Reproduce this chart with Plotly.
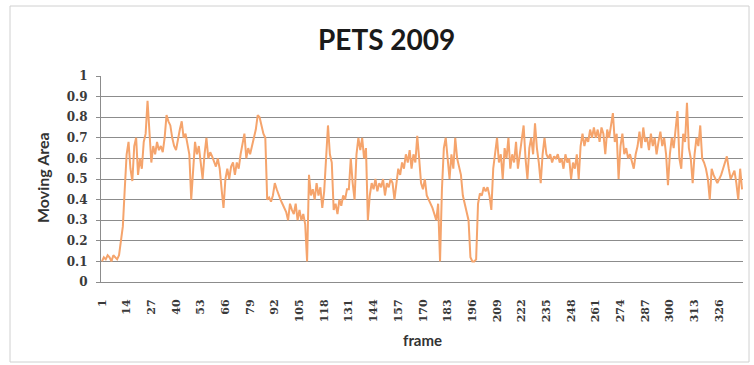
import plotly.graph_objects as go

# Moving-area ratio per frame, PETS 2009 sequence (frames 1..338)
moving_area = [
    # 1-10
    0.10, 0.12, 0.11, 0.13, 0.12, 0.10, 0.13, 0.12, 0.11, 0.13,
    # 11-20
    0.20, 0.27, 0.45, 0.62, 0.68, 0.55, 0.49, 0.66, 0.70, 0.52,
    # 21-30
    0.60, 0.55, 0.68, 0.72, 0.88, 0.70, 0.58, 0.66, 0.62, 0.68,
    # 31-40
    0.64, 0.66, 0.63, 0.70, 0.81, 0.78, 0.76, 0.70, 0.66, 0.64,
    # 41-50
    0.70, 0.74, 0.78, 0.70, 0.72, 0.66, 0.62, 0.40, 0.55, 0.68,
    # 51-60
    0.62, 0.66, 0.58, 0.50, 0.62, 0.70, 0.60, 0.63, 0.61, 0.58,
    # 61-70
    0.56, 0.60, 0.55, 0.45, 0.36, 0.50, 0.55, 0.50, 0.56, 0.58,
    # 71-80
    0.52, 0.58, 0.55, 0.62, 0.68, 0.72, 0.60, 0.65, 0.62, 0.66,
    # 81-90
    0.70, 0.74, 0.81, 0.80, 0.76, 0.72, 0.70, 0.40, 0.41, 0.39,
    # 91-100
    0.42, 0.48, 0.45, 0.42, 0.40, 0.38, 0.36, 0.34, 0.30, 0.38,
    # 101-110
    0.35, 0.33, 0.38, 0.30, 0.35, 0.30, 0.33, 0.28, 0.10, 0.52,
    # 111-120
    0.42, 0.45, 0.40, 0.48, 0.42, 0.46, 0.36, 0.44, 0.60, 0.76,
    # 121-130
    0.62, 0.58, 0.35, 0.38, 0.33, 0.40, 0.37, 0.42, 0.40, 0.45,
    # 131-140
    0.45, 0.60, 0.48, 0.40, 0.62, 0.70, 0.64, 0.70, 0.60, 0.65,
    # 141-150
    0.30, 0.42, 0.48, 0.45, 0.50, 0.44, 0.48, 0.46, 0.50, 0.42,
    # 151-160
    0.48, 0.46, 0.50, 0.48, 0.40, 0.48, 0.55, 0.52, 0.58, 0.55,
    # 161-170
    0.62, 0.58, 0.64, 0.55, 0.62, 0.58, 0.71, 0.60, 0.48, 0.45,
    # 171-180
    0.50, 0.42, 0.40, 0.38, 0.36, 0.33, 0.30, 0.38, 0.10, 0.45,
    # 181-190
    0.65, 0.70, 0.58, 0.50, 0.62, 0.55, 0.70, 0.60, 0.56, 0.52,
    # 191-200
    0.42, 0.38, 0.35, 0.30, 0.12, 0.10, 0.10, 0.11, 0.38, 0.43,
    # 201-210
    0.42, 0.46, 0.44, 0.46, 0.42, 0.35, 0.55, 0.62, 0.70, 0.58,
    # 211-220
    0.62, 0.50, 0.65, 0.60, 0.70, 0.55, 0.62, 0.58, 0.68, 0.55,
    # 221-230
    0.62, 0.70, 0.76, 0.60, 0.50, 0.65, 0.70, 0.62, 0.77, 0.65,
    # 231-240
    0.58, 0.48, 0.62, 0.70, 0.62, 0.60, 0.62, 0.58, 0.61, 0.60,
    # 241-250
    0.62, 0.58, 0.60, 0.55, 0.62, 0.58, 0.60, 0.50, 0.58, 0.55,
    # 251-260
    0.62, 0.50, 0.66, 0.72, 0.66, 0.70, 0.68, 0.74, 0.70, 0.75,
    # 261-270
    0.70, 0.74, 0.68, 0.75, 0.72, 0.62, 0.74, 0.70, 0.76, 0.82,
    # 271-280
    0.68, 0.72, 0.50, 0.66, 0.72, 0.62, 0.65, 0.60, 0.62, 0.58,
    # 281-290
    0.55, 0.62, 0.66, 0.73, 0.65, 0.75, 0.68, 0.70, 0.64, 0.72,
    # 291-300
    0.66, 0.70, 0.62, 0.68, 0.73, 0.66, 0.70, 0.62, 0.47, 0.62,
    # 301-310
    0.70, 0.65, 0.74, 0.83, 0.60, 0.55, 0.72, 0.68, 0.87, 0.65,
    # 311-320
    0.60, 0.48, 0.62, 0.70, 0.66, 0.76, 0.60, 0.58, 0.55, 0.50,
    # 321-330
    0.40, 0.55, 0.52, 0.50, 0.48, 0.50, 0.52, 0.55, 0.58, 0.61,
    # 331-338
    0.55, 0.50, 0.52, 0.54, 0.48, 0.40, 0.55, 0.45,
]
frames = list(range(1, len(moving_area) + 1))

# Category labels shown every 13th frame
x_tick_frames = list(range(1, len(frames) + 1, 13))
x_tick_labels = [str(f) for f in x_tick_frames]
y_tick_vals = [round(i * 0.1, 1) for i in range(11)]
y_tick_labels = ["0", "0.1", "0.2", "0.3", "0.4", "0.5", "0.6", "0.7", "0.8", "0.9", "1"]

W, H = 754, 365
L, R, T, B = 101, 11, 76, 83
pw, ph = W - L - R, H - T - B

def px_to_paper_x(px):
    return (px - L) / pw

def px_to_paper_y(py):
    return (H - B - py) / ph

fig = go.Figure()
fig.add_trace(go.Scatter(
    x=frames, y=moving_area, mode="lines",
    line=dict(color="#F5A46C", width=2),
    hoverinfo="x+y", showlegend=False,
))

x_tick_font = dict(family="DejaVu Serif", size=11, color="#3a3a3a", weight="bold")
y_tick_font = dict(family="DejaVu Serif", size=12, color="#3a3a3a", weight="bold")

fig.update_layout(
    width=W, height=H,
    margin=dict(l=L, r=R, t=T, b=B),
    paper_bgcolor="white", plot_bgcolor="white",
    xaxis=dict(
        range=[0.5, len(frames) + 0.5],
        tickmode="array", tickvals=x_tick_frames, ticktext=x_tick_labels,
        tickangle=-90, tickfont=x_tick_font,
        showgrid=False, zeroline=False,
        showline=True, linecolor="#8c8c8c", linewidth=1,
        ticks="", ticklabelstandoff=12,
    ),
    yaxis=dict(
        range=[0, 1],
        tickmode="array", tickvals=y_tick_vals, ticktext=y_tick_labels,
        tickfont=y_tick_font,
        showgrid=True, gridcolor="#8c8c8c", gridwidth=1,
        zeroline=False,
        showline=True, linecolor="#8c8c8c", linewidth=1,
        ticks="outside", ticklen=4, tickcolor="#8c8c8c",
        ticklabelstandoff=6,
    ),
    annotations=[
        dict(text="<b>PETS 2009</b>", xref="paper", yref="paper",
             x=px_to_paper_x(386), y=px_to_paper_y(39),
             xanchor="center", yanchor="middle", showarrow=False,
             font=dict(family="Lato", size=28, color="#1a1a1a")),
        dict(text="<b>Moving Area</b>", xref="paper", yref="paper",
             x=px_to_paper_x(42), y=px_to_paper_y(178), textangle=-90,
             xanchor="center", yanchor="middle", showarrow=False,
             font=dict(family="Lato", size=16, color="#333333")),
        dict(text="<b>frame</b>", xref="paper", yref="paper",
             x=px_to_paper_x(422), y=px_to_paper_y(340),
             xanchor="center", yanchor="middle", showarrow=False,
             font=dict(family="Lato", size=15, color="#333333")),
    ],
    shapes=[
        dict(type="rect", xref="paper", yref="paper",
             x0=px_to_paper_x(10), x1=px_to_paper_x(749),
             y0=px_to_paper_y(362), y1=px_to_paper_y(6),
             line=dict(color="#d0d0d0", width=1), fillcolor="rgba(0,0,0,0)",
             layer="below"),
    ],
)

fig.write_html("out.html")
